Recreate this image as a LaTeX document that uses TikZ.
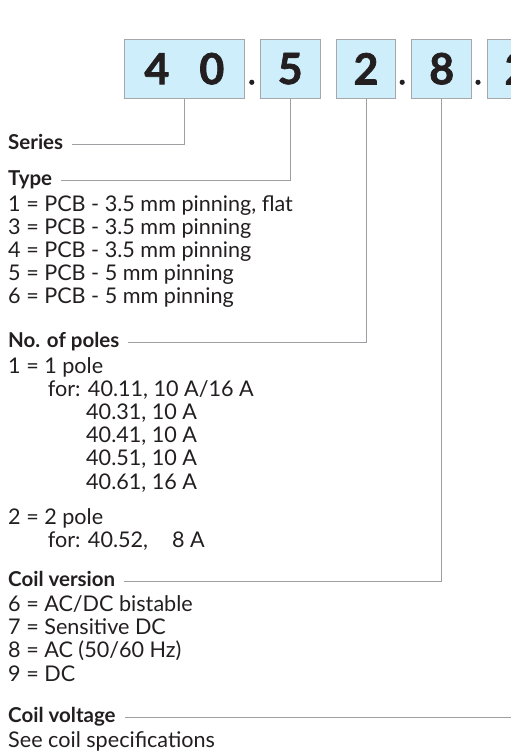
\documentclass[tikz,border=0pt]{standalone}
\usepackage{fontspec}
\setmainfont{Lato}
\definecolor{boxfill}{RGB}{205,238,250}
\definecolor{boxline}{RGB}{165,167,170}
\definecolor{connline}{RGB}{157,159,162}
\definecolor{ink}{RGB}{35,31,32}
\tikzset{
  digbox/.style={draw=boxline, line width=0.9pt, fill=boxfill, minimum height=59pt, inner sep=0pt, text=ink, font=\fontsize{43}{43}\selectfont\bfseries\addfontfeature{FakeBold=1.6}},
  txt/.style={anchor=base west, inner sep=0pt, text=ink, font=\fontsize{21.6}{21.6}\selectfont},
  hdr/.style={anchor=base west, inner sep=0pt, text=ink, font=\fontsize{20.5}{20.5}\selectfont\bfseries},
  conn/.style={draw=connline, line width=0.9pt},
  dotmark/.style={fill=ink}
}
\begin{document}
\begin{tikzpicture}[x=1pt,y=-1pt]
\clip (0,0) rectangle (511,756);
\fill[white] (0,0) rectangle (511,756);
% code boxes
\node[digbox, minimum width=120.7pt] (b1) at (184.4,68.7) {4\hspace{30pt}0};
\node[digbox, minimum width=59.7pt] (b2) at (290.2,68.7) {5};
\node[digbox, minimum width=59.4pt] (b3) at (366.0,68.7) {2};
\node[digbox, minimum width=60pt] (b4) at (441.7,68.7) {8};
\node[digbox, minimum width=60pt] (b5) at (517,68.7) {2};
\fill[dotmark] (251.8,82.3) circle (2.6pt);
\fill[dotmark] (402.2,82.3) circle (2.6pt);
\fill[dotmark] (478.0,82.3) circle (2.6pt);
% headers
\node[hdr] (ser) at (8,149.5) {Series};
\node[hdr] (typ) at (8,185) {Type};
\node[hdr] (pol) at (8,347.7) {No. of poles};
\node[hdr] (cv) at (8,586) {Coil version};
\node[hdr] (cvo) at (8,722.7) {Coil voltage};
% type list
\node[txt] (t1) at (8,211) {1 = PCB - 3.5 mm pinning, flat};
\node[txt] (t3) at (8,234.2) {3 = PCB - 3.5 mm pinning};
\node[txt] (t4) at (8,257.4) {4 = PCB - 3.5 mm pinning};
\node[txt] (t5) at (8,280.6) {5 = PCB - 5 mm pinning};
\node[txt] (t6) at (8,303.8) {6 = PCB - 5 mm pinning};
% poles
\node[txt] (p1) at (8,373) {1 = 1 pole};
\node[txt] (p1a) at (47.7,396.2) {for: 40.11, 10 A/16 A};
\node[txt] (p1b) at (86,419.4) {40.31, 10 A};
\node[txt] (p1c) at (86,442.6) {40.41, 10 A};
\node[txt] (p1d) at (86,465.8) {40.51, 10 A};
\node[txt] (p1e) at (86,489) {40.61, 16 A};
\node[txt] (p2) at (8,524.5) {2 = 2 pole};
\node[txt] (p2a) at (47.7,547.5) {for: 40.52,\hspace{24pt}8 A};
% coil version
\node[txt] (c6) at (8,611.5) {6 = AC/DC bistable};
\node[txt] (c7) at (8,634.7) {7 = Sensitive DC};
\node[txt] (c8) at (8,657.9) {8 = AC (50/60 Hz)};
\node[txt] (c9) at (8,681.1) {9 = DC};
% coil voltage
\node[txt] (sv) at (8,747.7) {See coil specifications};
% connectors
\draw[conn] ([xshift=9pt,yshift=5pt]ser.base east) -| (b1.south);
\draw[conn] ([xshift=9pt,yshift=5pt]typ.base east) -| (b2.south);
\draw[conn] ([xshift=9pt,yshift=5pt]pol.base east) -| (b3.south);
\draw[conn] ([xshift=9pt,yshift=5pt]cv.base east) -| (b4.south);
\draw[conn] ([xshift=9pt,yshift=5pt]cvo.base east) -| (b5.south);
\end{tikzpicture}
\end{document}
